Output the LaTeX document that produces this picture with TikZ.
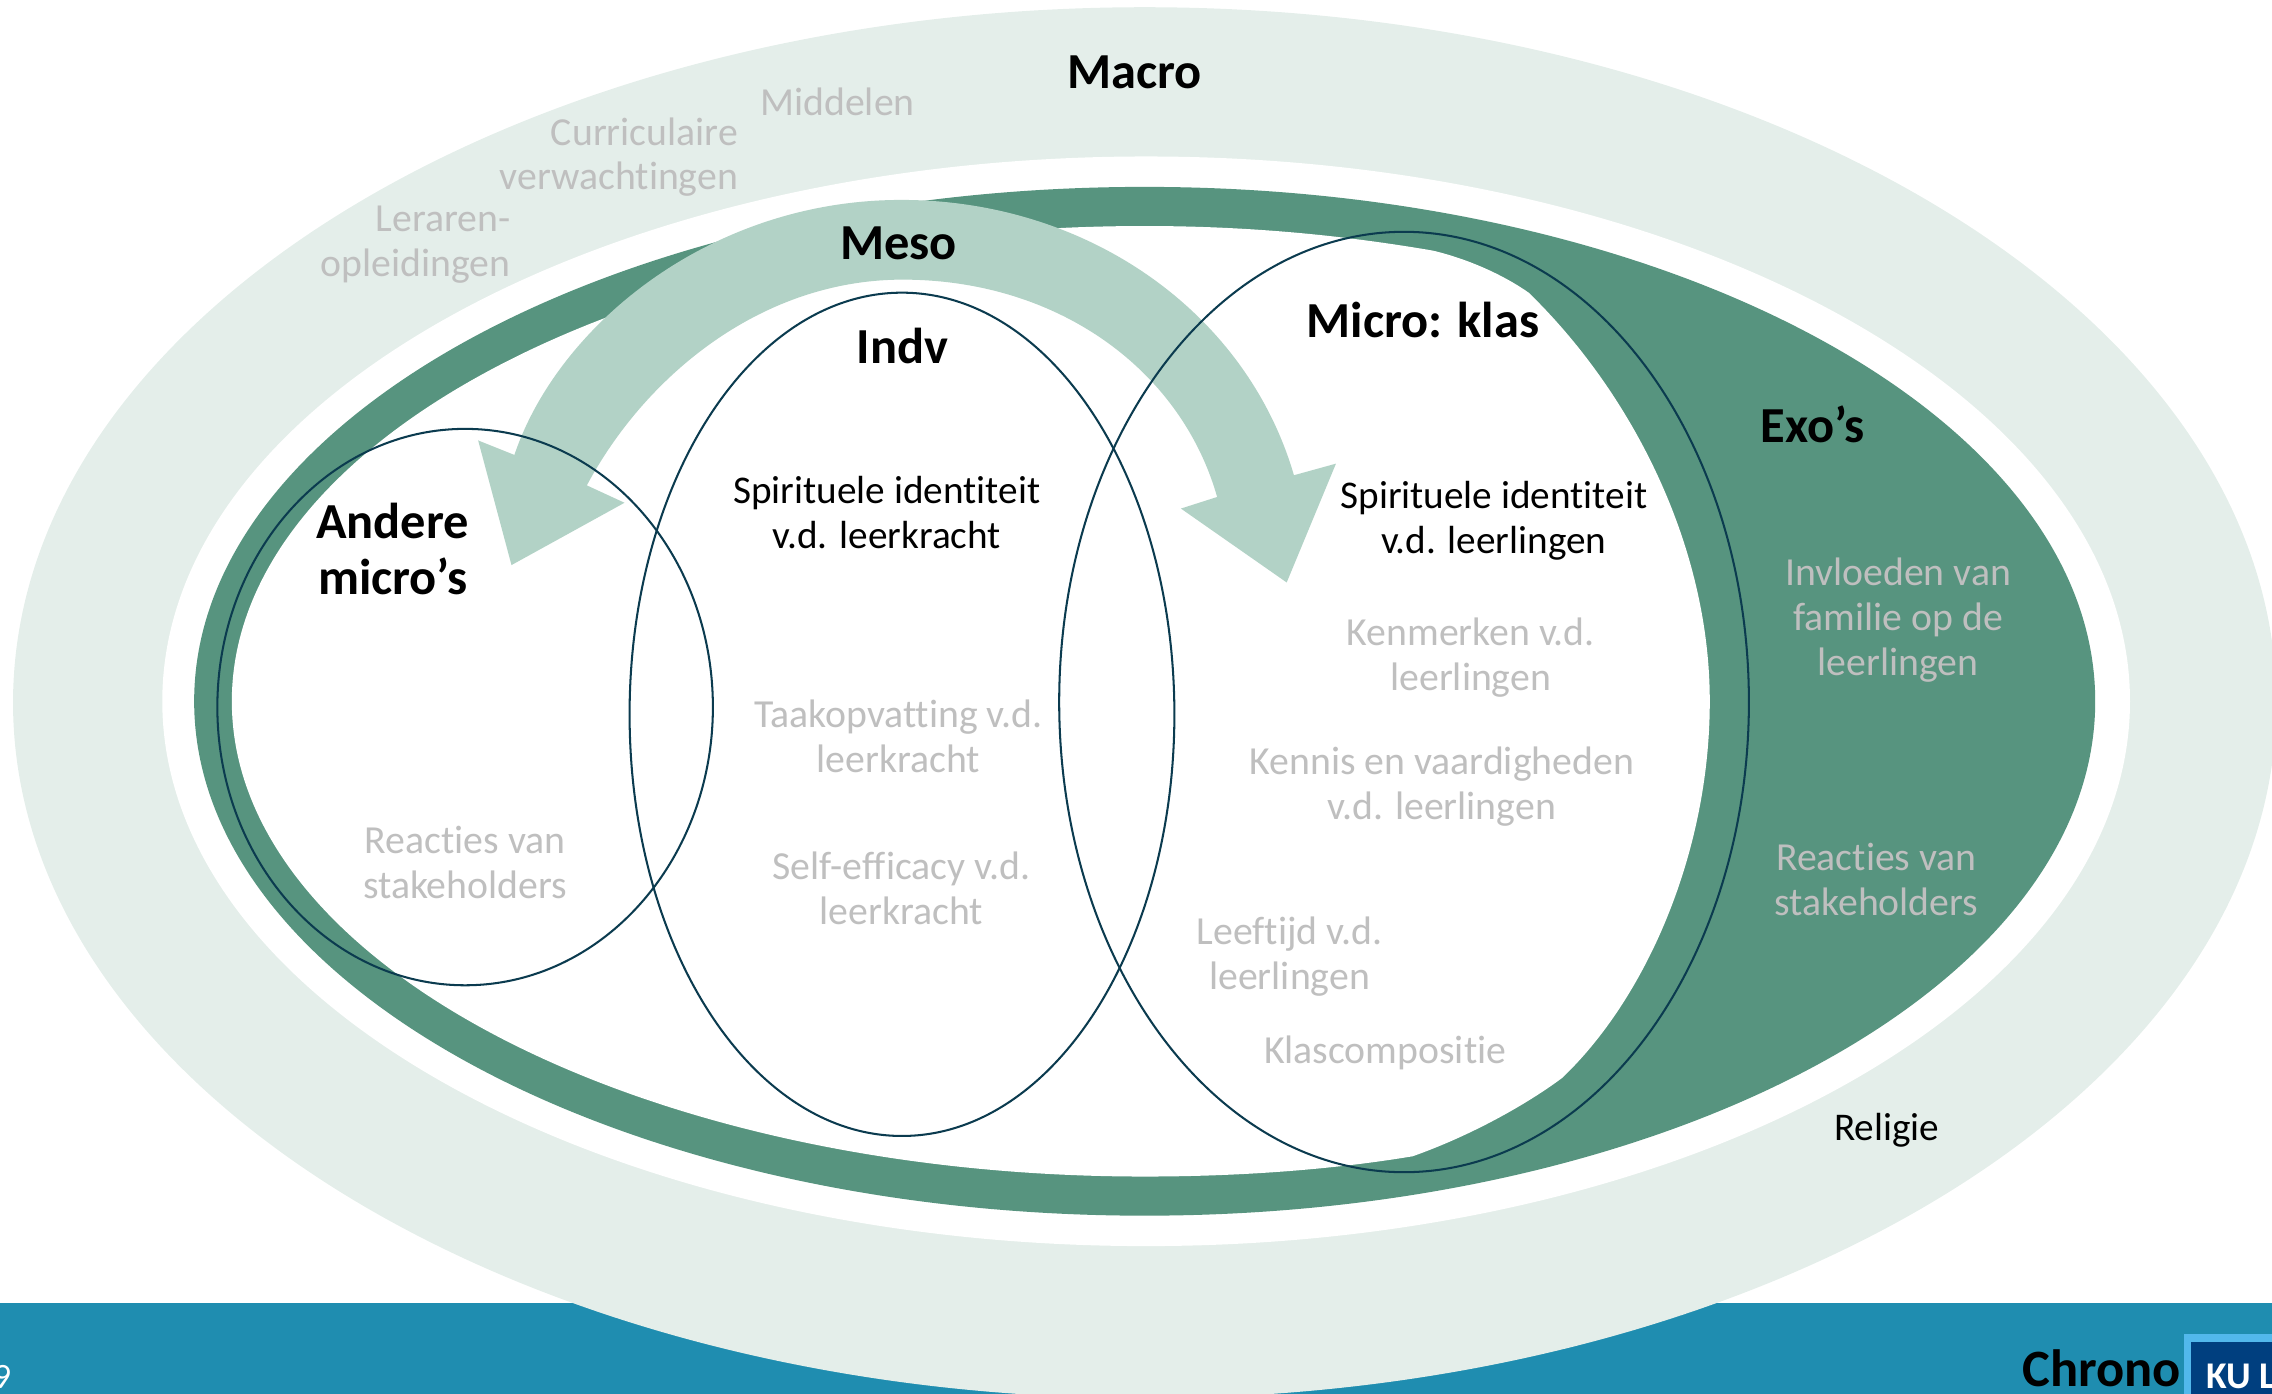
\documentclass[tikz,border=0pt]{standalone}
\usepackage{fontspec}
\setmainfont[Ligatures=NoCommon]{Carlito}
\definecolor{macrogroen}{HTML}{E4EEEA}
\definecolor{exogroen}{HTML}{57947F}
\definecolor{mesogroen}{HTML}{B2D2C6}
\definecolor{lijnblauw}{HTML}{0B3B4F}
\definecolor{bandblauw}{HTML}{1F8DB0}
\definecolor{tekstgrijs}{HTML}{BFBFBF}
\definecolor{logolicht}{HTML}{52B8EC}
\definecolor{logodonker}{HTML}{003F7F}
\tikzset{
  kop/.style={font=\fontsize{9.9}{11}\selectfont\bfseries, align=center, inner sep=0pt},
  zwart/.style={font=\fontsize{7.7}{8.8}\selectfont, align=center, inner sep=0pt},
  grijs/.style={zwart, font=\fontsize{7.8}{8.8}\selectfont, text=tekstgrijs},
  kring/.style={draw=lijnblauw, line width=0.4pt},
}
\begin{document}
\begin{tikzpicture}[x=0.01cm,y=-0.01cm]
  \clip (0,0) rectangle (1568,962);
  % band
  \fill[bandblauw] (0,899) rectangle (1568,962);
  % ellipsen
  \fill[macrogroen] (790,485) ellipse [x radius=781, y radius=480];
  \fill[white] (791,484) ellipse [x radius=679, y radius=376];
  \fill[exogroen] (790,484) ellipse [x radius=656, y radius=355];
  % witte binnenkant
  \fill[white] (989,173) .. controls (1010,178) and (1035,188) .. (1055,202)
    .. controls (1125,270) and (1180,375) .. (1180,484)
    .. controls (1180,590) and (1135,690) .. (1078,744)
    .. controls (1058,759) and (1020,782) .. (975,798)
    .. controls (915,808) and (850,812) .. (790,812)
    .. controls (442,812) and (160,665) .. (160,484)
    .. controls (160,303) and (442,156) .. (790,156)
    .. controls (860,156) and (925,162) .. (989,173) -- cycle;
  % pijl
  \fill[mesogroen] (355,314) .. controls (385,225) and (490,138) .. (622,138)
    .. controls (750,138) and (860,215) .. (893,328)
    -- (922,320) -- (888,402) -- (815,351) -- (840,343)
    .. controls (815,255) and (730,193) .. (623,193)
    .. controls (525,193) and (445,260) .. (405,335)
    -- (431,347) -- (353,390) -- (330,304) -- cycle;
  % kringen
  \draw[kring] (969,484.5) ellipse [x radius=238, y radius=324.5];
  \draw[kring] (622.5,493) ellipse [x radius=188, y radius=291];
  \draw[kring] (321,488) ellipse [x radius=171, y radius=192];
  % koppen
  \node[kop] (macro) at (783,50) {Macro};
  \node[kop] (meso) at (620,168) {Meso};
  \node[kop] (indv) at (623,239) {Indv};
  \node[kop] (klas) at (982,221) {Micro: klas};
  \node[kop] (exo) at (1251,293) {Exo’s};
  \node[kop] (andere) at (271,379) {Andere\\micro’s};
  % macro
  \node[grijs] (middelen) at (578,70) {Middelen};
  \node[grijs, align=right, anchor=east] (curriculair) at (510,108.5) {Curriculaire\\verwachtingen};
  \node[grijs, align=right, anchor=east] (opleiding) at (353,169) {Leraren-\\opleidingen};
  \node[zwart] (religie) at (1302,780) {Religie};
  % indv
  \node[zwart] (identleer) at (612,354) {Spirituele identiteit\\v.d. leerkracht};
  \node[grijs] (taak) at (620,508) {Taakopvatting v.d.\\leerkracht};
  \node[grijs] (self) at (622,613) {Self-efficacy v.d.\\leerkracht};
  % andere micro's
  \node[grijs] (reactiesa) at (321,595) {Reacties van\\stakeholders};
  % klas
  \node[zwart] (identlln) at (1031,359.5) {Spirituele identiteit\\v.d. leerlingen};
  \node[grijs] (kenmerk) at (1015,454) {Kenmerken v.d.\\leerlingen};
  \node[grijs] (kennis) at (995,543) {Kennis en vaardigheden\\v.d. leerlingen};
  \node[grijs] (leeftijd) at (890,660) {Leeftijd v.d.\\leerlingen};
  \node[grijs] (compositie) at (956,726.5) {Klascompositie};
  % exo
  \node[grijs] (familie) at (1310,428) {Invloeden van\\familie op de\\leerlingen};
  \node[grijs] (reactiese) at (1295,607) {Reacties van\\stakeholders};
  % voet
  \node[zwart, text=white, anchor=east, font=\fontsize{7}{8}\selectfont] (pagina) at (8.5,950) {9};
  \node[kop, anchor=east, font=\fontsize{10.3}{11}\selectfont\bfseries] (chrono) at (1506,944) {Chrono};
  \fill[logolicht] (1507,921) rectangle (1568,962);
  \fill[logodonker] (1512,926) rectangle (1568,962);
  \node[kop, text=white, anchor=west, font=\fontsize{7.4}{8}\selectfont\bfseries] (kul) at (1522,950) {KU L};
\end{tikzpicture}
\end{document}
